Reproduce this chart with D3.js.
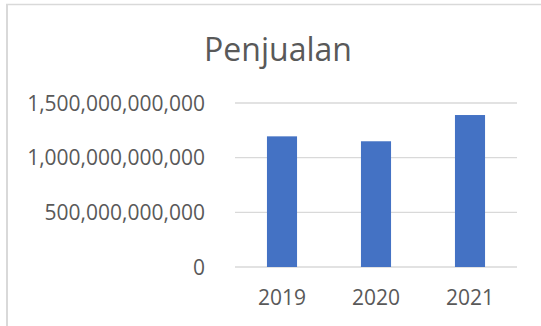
<!DOCTYPE html>
<html>
<head>
<meta charset="utf-8">
<script src="https://cdnjs.cloudflare.com/ajax/libs/d3/7.8.5/d3.min.js"></script>
<style>
  body { margin: 0; background: #fff; }
  svg { display: block; font-family: "Open Sans", sans-serif; }
</style>
</head>
<body>
<svg id="chart" width="541" height="326"></svg>
<script>
// Penjualan per tahun
var years = ["2019", "2020", "2021"];
var sales = [1195000000000, 1150000000000, 1390000000000];
var yTicks = [0, 500000000000, 1000000000000, 1500000000000];
var title = "Penjualan";

var svg = d3.select("#chart");

// chart area frame (only top and left edges visible)
svg.append("line")
    .attr("x1", 6).attr("x2", 541).attr("y1", 4.5).attr("y2", 4.5)
    .attr("stroke", "#d9d9d9").attr("stroke-width", 1.5);
svg.append("line")
    .attr("x1", 7).attr("x2", 7).attr("y1", 4).attr("y2", 326)
    .attr("stroke", "#d9d9d9").attr("stroke-width", 2);

var x = d3.scaleBand()
    .domain(years)
    .range([235, 517])
    .paddingInner(0.68)
    .paddingOuter(0.34);

var y = d3.scaleLinear()
    .domain([0, 1500000000000])
    .range([267, 103]);

var fmt = d3.format(",.0f");

// gridlines
svg.append("g")
    .selectAll("line")
    .data(yTicks)
    .join("line")
    .attr("x1", 235).attr("x2", 517)
    .attr("y1", function(d) { return y(d); })
    .attr("y2", function(d) { return y(d); })
    .attr("stroke", "#d9d9d9")
    .attr("stroke-width", 1.3);

// y labels
svg.append("g")
    .selectAll("text")
    .data(yTicks)
    .join("text")
    .attr("x", 205)
    .attr("y", function(d) { return y(d) + 7.5; })
    .attr("text-anchor", "end")
    .attr("fill", "#595959")
    .style("font-size", "21px")
    .text(function(d) { return fmt(d); });

// bars
svg.append("g")
    .selectAll("rect")
    .data(sales)
    .join("rect")
    .attr("x", function(d, i) { return x(years[i]); })
    .attr("width", x.bandwidth())
    .attr("y", function(d) { return y(d); })
    .attr("height", function(d) { return y(0) - y(d); })
    .attr("fill", "#4472c4");

// x labels
svg.append("g")
    .selectAll("text")
    .data(years)
    .join("text")
    .attr("x", function(d) { return x(d) + x.bandwidth() / 2; })
    .attr("y", 305)
    .attr("text-anchor", "middle")
    .attr("fill", "#595959")
    .style("font-size", "21px")
    .text(function(d) { return d; });

// title
svg.append("text")
    .attr("x", 278)
    .attr("y", 60.5)
    .attr("text-anchor", "middle")
    .attr("fill", "#595959")
    .style("font-size", "32px")
    .text(title);
</script>
</body>
</html>
